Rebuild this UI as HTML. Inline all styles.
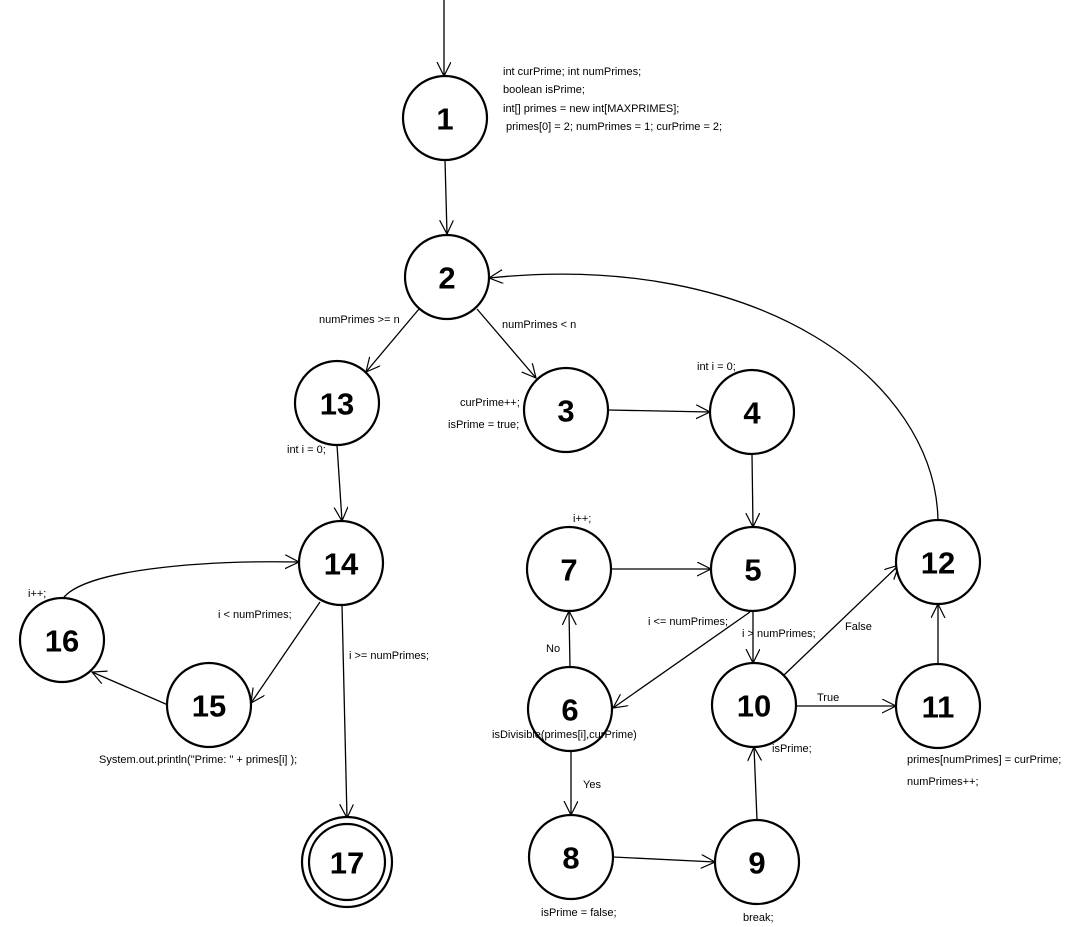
<!DOCTYPE html>
<html><head><style>
body{margin:0;background:#fff}
svg{display:block}
text{font-family:"Liberation Sans",sans-serif}
.n{font-size:31px;font-weight:bold;text-anchor:middle;dominant-baseline:central}
.l{font-size:11px}
</style></head><body>
<svg width="1079" height="927" viewBox="0 0 1079 927" xmlns="http://www.w3.org/2000/svg">
<defs>
<marker id="a" markerWidth="20" markerHeight="20" refX="14" refY="7" orient="auto" markerUnits="userSpaceOnUse">
<path d="M0,0 L14,7 L0,14" fill="none" stroke="#000" stroke-width="1.2"/>
</marker>
</defs>
<g fill="none" stroke="#000" stroke-width="1.3" marker-end="url(#a)">
<line x1="444" y1="0" x2="444" y2="76"/>
<line x1="445" y1="160" x2="447" y2="234"/>
<line x1="419" y1="309" x2="366" y2="372"/>
<line x1="477" y1="309" x2="536" y2="378"/>
<line x1="608" y1="410" x2="710" y2="412"/>
<line x1="752" y1="454" x2="753" y2="527"/>
<line x1="611" y1="569" x2="711" y2="569"/>
<line x1="750" y1="612" x2="613" y2="708"/>
<line x1="753" y1="611" x2="753" y2="663"/>
<line x1="570" y1="667" x2="569" y2="611"/>
<line x1="571" y1="751" x2="571" y2="815"/>
<line x1="613" y1="857" x2="715" y2="862"/>
<line x1="757" y1="820" x2="754" y2="747"/>
<line x1="796" y1="706" x2="896" y2="706"/>
<line x1="784" y1="675" x2="899" y2="565"/>
<line x1="938" y1="664" x2="938" y2="604"/>
<path d="M938,520 C935,380 760,250 489,278"/>
<line x1="337" y1="445" x2="342" y2="521"/>
<line x1="320" y1="602" x2="251" y2="703"/>
<line x1="168" y1="705" x2="92" y2="672"/>
<path d="M62,600 C80,570 200,560 299,562"/>
<line x1="342" y1="605" x2="347" y2="818"/>
</g>
<g fill="#fff" stroke="#000" stroke-width="2.2">
<circle cx="445" cy="118" r="42"/>
<circle cx="447" cy="277" r="42"/>
<circle cx="337" cy="403" r="42"/>
<circle cx="566" cy="410" r="42"/>
<circle cx="752" cy="412" r="42"/>
<circle cx="341" cy="563" r="42"/>
<circle cx="569" cy="569" r="42"/>
<circle cx="753" cy="569" r="42"/>
<circle cx="938" cy="562" r="42"/>
<circle cx="62" cy="640" r="42"/>
<circle cx="209" cy="705" r="42"/>
<circle cx="570" cy="709" r="42"/>
<circle cx="754" cy="705" r="42"/>
<circle cx="938" cy="706" r="42"/>
<circle cx="571" cy="857" r="42"/>
<circle cx="757" cy="862" r="42"/>
<circle cx="347" cy="862" r="45"/>
<circle cx="347" cy="862" r="38"/>
</g>
<g class="n">
<text x="445" y="119">1</text><text x="447" y="278">2</text><text x="337" y="404">13</text>
<text x="566" y="411">3</text><text x="752" y="413">4</text><text x="341" y="564">14</text>
<text x="569" y="570">7</text><text x="753" y="570">5</text><text x="938" y="563">12</text>
<text x="62" y="641">16</text><text x="209" y="706">15</text><text x="570" y="710">6</text>
<text x="754" y="706">10</text><text x="938" y="707">11</text><text x="571" y="858">8</text>
<text x="757" y="863">9</text><text x="347" y="863">17</text>
</g>
<g class="l">
<text x="503" y="75">int curPrime; int numPrimes;</text>
<text x="503" y="93">boolean isPrime;</text>
<text x="503" y="112">int[] primes = new int[MAXPRIMES];</text>
<text x="506" y="130">primes[0] = 2; numPrimes = 1; curPrime = 2;</text>
<text x="319" y="323">numPrimes &gt;= n</text>
<text x="502" y="328">numPrimes &lt; n</text>
<text x="460" y="406">curPrime++;</text>
<text x="448" y="428">isPrime = true;</text>
<text x="697" y="370">int i = 0;</text>
<text x="287" y="453">int i = 0;</text>
<text x="573" y="522">i++;</text>
<text x="28" y="597">i++;</text>
<text x="218" y="618">i &lt; numPrimes;</text>
<text x="349" y="659">i &gt;= numPrimes;</text>
<text x="648" y="625">i &lt;= numPrimes;</text>
<text x="742" y="637">i &gt; numPrimes;</text>
<text x="845" y="630">False</text>
<text x="546" y="652">No</text>
<text x="817" y="701">True</text>
<text x="492" y="738">isDivisible(primes[i],curPrime)</text>
<text x="772" y="752">isPrime;</text>
<text x="99" y="763">System.out.println("Prime: " + primes[i] );</text>
<text x="583" y="788">Yes</text>
<text x="907" y="763">primes[numPrimes] = curPrime;</text>
<text x="907" y="785">numPrimes++;</text>
<text x="541" y="916">isPrime = false;</text>
<text x="743" y="921">break;</text>
</g>
</svg>
</body></html>
